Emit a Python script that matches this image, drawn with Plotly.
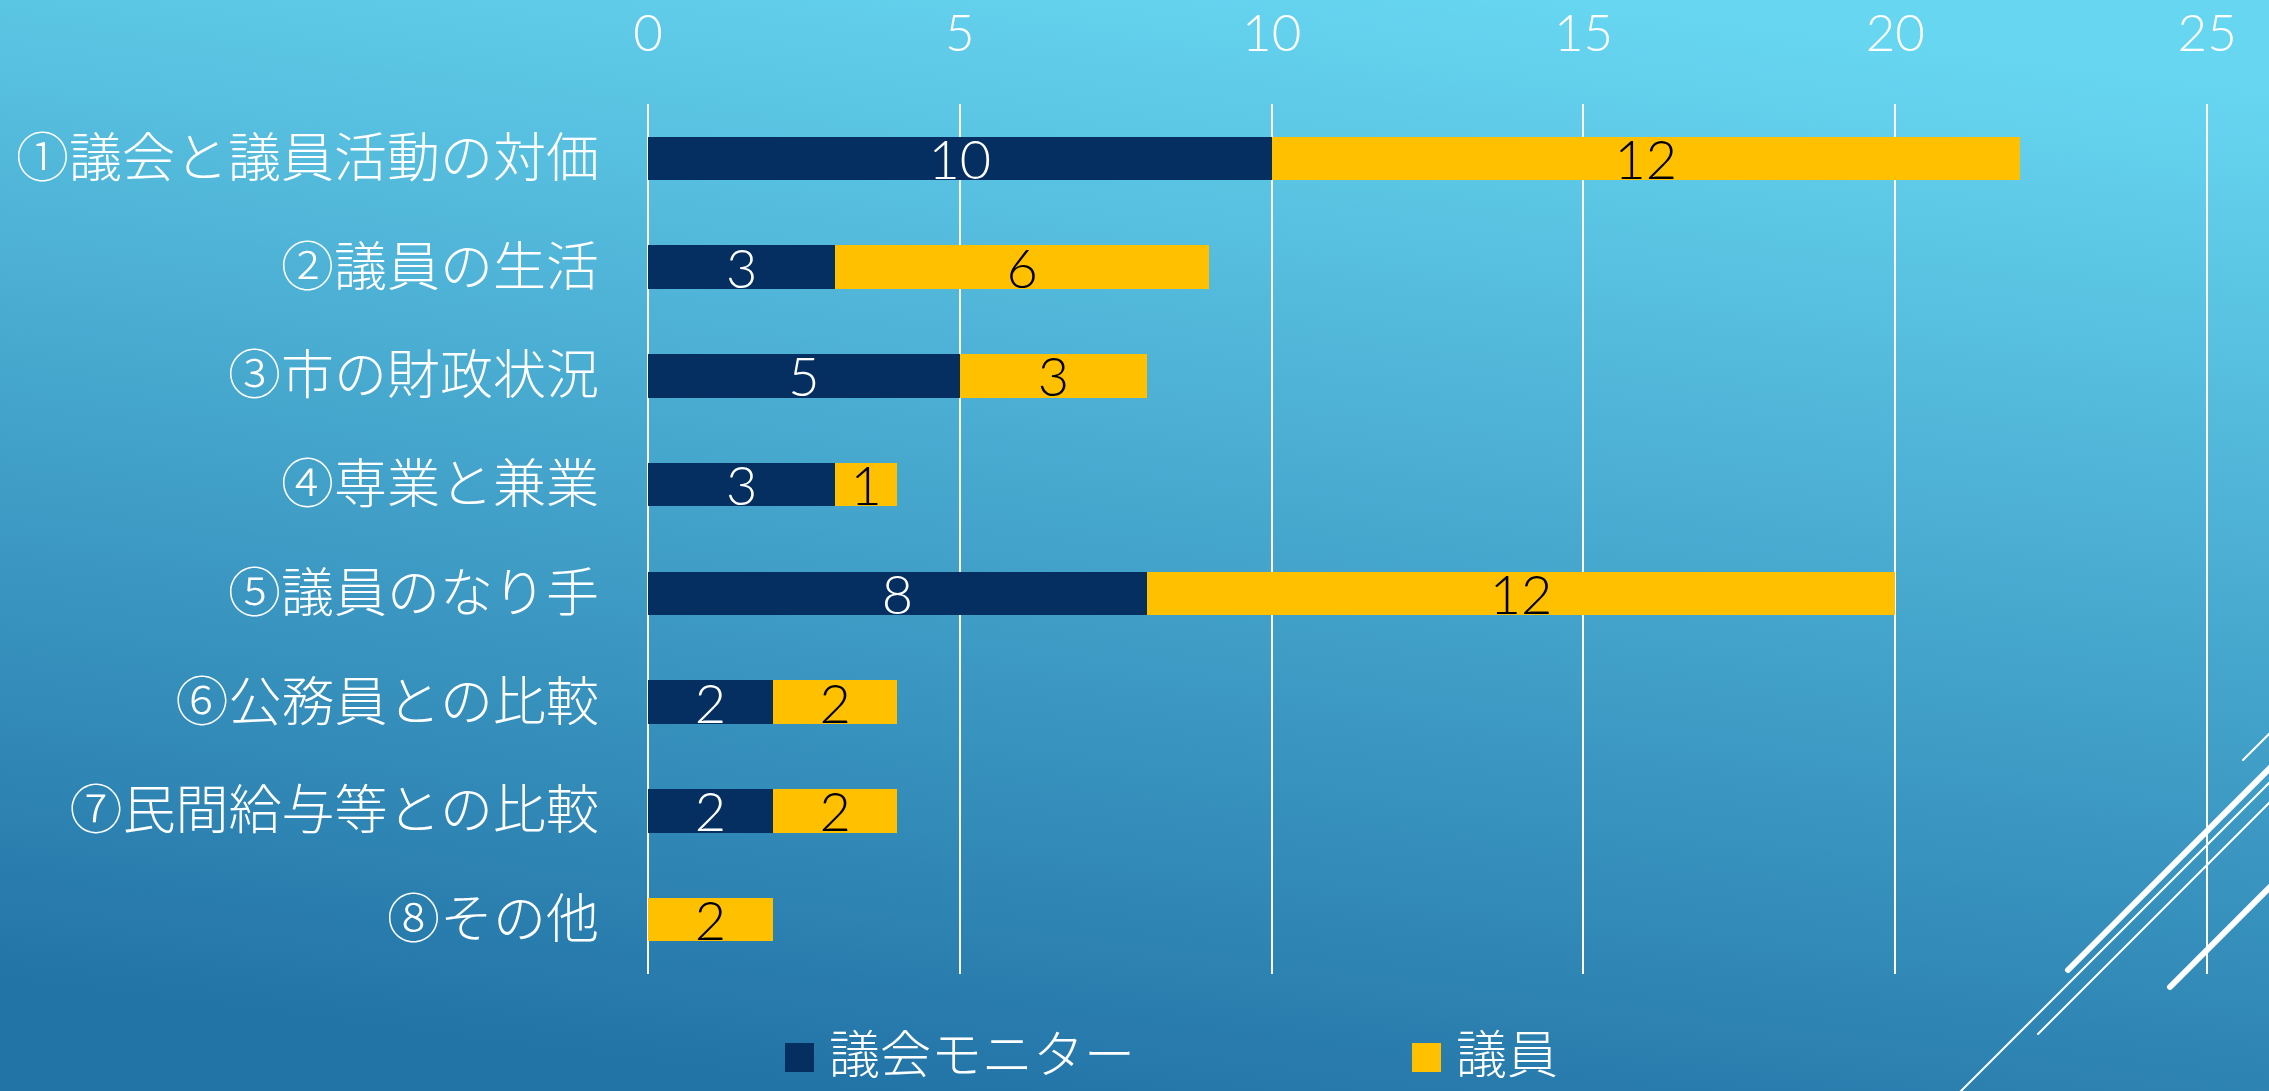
import base64
import plotly.graph_objects as go

# ---- data ----
categories = [
    "①議会と議員活動の対価",
    "②議員の生活",
    "③市の財政状況",
    "④専業と兼業",
    "⑤議員のなり手",
    "⑥公務員との比較",
    "⑦民間給与等との比較",
    "⑧その他",
]
monitor_values = [10, 3, 5, 3, 8, 2, 2, 0]
member_values = [12, 6, 3, 1, 12, 2, 2, 2]
series_names = ["議会モニター", "議員"]
x_ticks = [0, 5, 10, 15, 20, 25]

# ---- styling ----
W, H = 2269, 1091
ML, MR, MT, MB = 648, 60, 104, 117
PW, PH = W - ML - MR, H - MT - MB
NAVY = "#052F61"
GOLD = "#FFC000"
JP_FONT = "Noto Sans CJK JP"
NUM_FONT = "Lato"


def px(x):
    return (x - ML) / PW


def py(y):
    return (H - MB - y) / PH


# background gradient + decorative lines as an SVG image
svg = f'''<svg xmlns="http://www.w3.org/2000/svg" width="{W}" height="{H}" viewBox="0 0 {W} {H}" preserveAspectRatio="none">
<defs><linearGradient id="g" gradientUnits="userSpaceOnUse" x1="1250" y1="-40" x2="1100" y2="1131">
<stop offset="0" stop-color="#67D6F1"/><stop offset="1" stop-color="#2273A6"/></linearGradient></defs>
<rect x="0" y="0" width="{W}" height="{H}" fill="url(#g)"/>
<g stroke="#FFFFFF" stroke-linecap="round" fill="none">
<line x1="2068" y1="970" x2="2330" y2="708" stroke-width="6"/>
<line x1="1950" y1="1102" x2="2330" y2="722" stroke-width="2"/>
<line x1="2038" y1="1034" x2="2330" y2="742" stroke-width="2"/>
<line x1="2243" y1="760" x2="2330" y2="673" stroke-width="2"/>
<line x1="2170" y1="987" x2="2330" y2="827" stroke-width="6"/>
</g></svg>'''
bg_uri = "data:image/svg+xml;base64," + base64.b64encode(svg.encode("utf-8")).decode("ascii")

fig = go.Figure()
for name, vals, color, tcolor in [
    (series_names[0], monitor_values, NAVY, "#FFFFFF"),
    (series_names[1], member_values, GOLD, "#000000"),
]:
    fig.add_trace(go.Bar(
        name=name,
        y=categories,
        x=vals,
        orientation="h",
        marker=dict(color=color, line=dict(width=0)),
        text=[str(v) if v else "" for v in vals],
        textposition="inside",
        insidetextanchor="middle",
        textangle=0,
        constraintext="none",
        textfont=dict(family=NUM_FONT, size=54, color=tcolor, weight=300),
        showlegend=False,
        hoverinfo="x+y+name",
    ))

# custom legend
legend_items = [(series_names[0], NAVY, 785), (series_names[1], GOLD, 1412)]
shapes = []
annotations = []
for name, color, x0 in legend_items:
    shapes.append(dict(type="rect", xref="paper", yref="paper",
                       x0=px(x0), x1=px(x0 + 29), y0=py(1072), y1=py(1043),
                       fillcolor=color, line=dict(width=0)))
    annotations.append(dict(xref="paper", yref="paper", x=px(x0 + 42), y=py(1051),
                            xanchor="left", yanchor="middle", showarrow=False,
                            text=name, font=dict(family=JP_FONT, size=51, color="#FFFFFF", weight=300)))

fig.update_layout(
    width=W, height=H,
    margin=dict(l=ML, r=MR, t=MT, b=MB, pad=0, autoexpand=False),
    paper_bgcolor="#3FA0CB",
    plot_bgcolor="rgba(0,0,0,0)",
    barmode="stack",
    bargap=0.6,
    showlegend=False,
    shapes=shapes,
    annotations=annotations,
    images=[dict(source=bg_uri, xref="paper", yref="paper",
                 x=-ML / PW, y=1 + MT / PH, xanchor="left", yanchor="top",
                 sizex=W / PW, sizey=H / PH, sizing="stretch", layer="below")],
    xaxis=dict(
        side="top", range=[0, 25.03], tickvals=x_ticks, ticktext=[str(t) for t in x_ticks],
        showgrid=True, gridcolor="#FFFFFF", gridwidth=2,
        zeroline=True, zerolinecolor="#FFFFFF", zerolinewidth=2,
        showline=False, ticks="",
        ticklabelstandoff=42, automargin=False,
        tickfont=dict(family=NUM_FONT, size=51, color="#FFFFFF", weight=300),
        fixedrange=True,
    ),
    yaxis=dict(
        autorange="reversed", showgrid=False, zeroline=False, showline=False, ticks="",
        ticklabelstandoff=48, automargin=False,
        tickfont=dict(family=JP_FONT, size=53, color="#FFFFFF", weight=300),
        fixedrange=True,
    ),
)

fig.write_html("out.html", config={"displayModeBar": False},
               post_script="document.body.style.margin='0';")
